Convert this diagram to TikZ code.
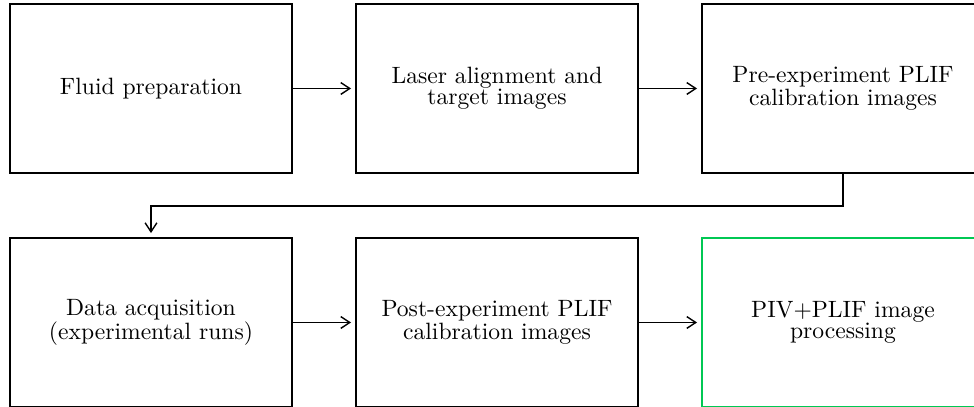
\documentclass[tikz,border=0pt]{standalone}
\usetikzlibrary{arrows.meta}
\definecolor{procgreen}{RGB}{0,200,83}
\begin{document}
\begin{tikzpicture}[x=0.4237pt, y=-0.4237pt,
  stage/.style={draw, line width=0.6pt, minimum width=119.5pt, minimum height=71.6pt,
    align=center, inner sep=0pt, font=\fontsize{10}{8.8}\selectfont},
  flow/.style={-{Straight Barb[length=3.8pt, width=5pt]}, line width=0.6pt, shorten >=1.8pt}]
  \useasboundingbox (0,0) rectangle (974,407);
  \clip (0,0) rectangle (974,407);
  % top row
  \node[stage] (b1) at (151,88.5) {Fluid preparation};
  \node[stage] (b2) at (497,88.5) {Laser alignment and\\target images};
  \node[stage] (b3) at (843,88.5) {Pre-experiment PLIF\\calibration images};
  % bottom row
  \node[stage] (b4) at (151,322.5) {Data acquisition\\(experimental runs)};
  \node[stage] (b5) at (497,322.5) {Post-experiment PLIF\\calibration images};
  \node[stage, draw=procgreen] (b6) at (843,322.5) {PIV+PLIF image\\processing};
  % connectors
  \coordinate (turn) at (497,206);
  \draw[flow] (b1) -- (b2);
  \draw[flow] (b2) -- (b3);
  \draw[flow] (b3.south) |- (turn) -| (b4.north);
  \draw[flow] (b4) -- (b5);
  \draw[flow] (b5) -- (b6);
\end{tikzpicture}
\end{document}
